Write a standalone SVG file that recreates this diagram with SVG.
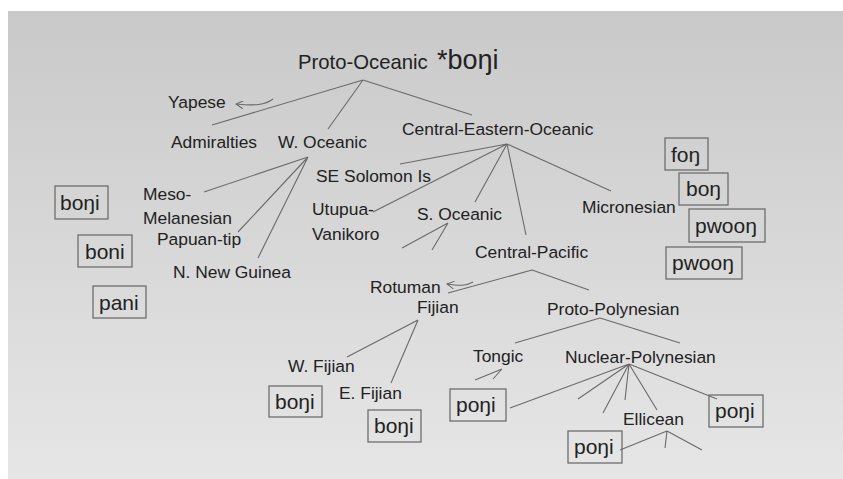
<svg xmlns="http://www.w3.org/2000/svg" width="843" height="479" viewBox="0 0 843 479">
<defs>
<linearGradient id="bg" x1="0" y1="0" x2="0" y2="1">
<stop offset="0" stop-color="#c9c9c9"/>
<stop offset="1" stop-color="#e6e6e6"/>
</linearGradient>
<marker id="open" viewBox="0 0 10 10" refX="9" refY="5" markerWidth="8" markerHeight="8" orient="auto" markerUnits="userSpaceOnUse">
<path d="M0,0 L9,5 L0,10" fill="none" stroke="#666" stroke-width="1.2"/>
</marker>
<style>
.lbl{font-family:"Liberation Sans",Arial,sans-serif;font-size:17.4px;fill:#222}
.bx{font-family:"Liberation Sans",Arial,sans-serif;font-size:21px;fill:#222}
.box{fill:none;stroke:#6e6e6e;stroke-width:1.3}
.ln{fill:none;stroke:#6a6a6a;stroke-width:1.1}
</style>
</defs>
<rect x="0" y="0" width="843" height="479" fill="#ffffff"/>
<rect x="8" y="11" width="835" height="468" fill="url(#bg)"/>

<g id="connectors">
<path class="ln" d="M363,80 L212,125 M363,80 L328,129 M363,80 L472,115"/>
<path class="ln" d="M273,99 C265,105 255,106 236,104" marker-end="url(#open)"/>
<path class="ln" d="M308,157 L204,192 M308,157 L238,232 M308,157 L258,258"/>
<path class="ln" d="M507,144 L400,164 M507,144 L373,212 M507,144 L475,202 M507,144 L526,235 M507,144 L611,191"/>
<path class="ln" d="M448,223 L402,248 M448,223 L432,250"/>
<path class="ln" d="M532,270 L448,293 M532,270 L589,290"/>
<path class="ln" d="M473,282 C466,286 460,286 447,284" marker-end="url(#open)"/>
<path class="ln" d="M418,320 L347,357 M418,320 L391,383"/>
<path class="ln" d="M600,318 L515,343 M600,318 L680,343"/>
<path class="ln" d="M502,369 L475,380 M502,369 L493,379"/>
<path class="ln" d="M629,364 L510,408 M629,364 L578,399 M629,364 L603,413 M629,364 L625,400 M629,364 L657,410 M629,364 L717,399"/>
<path class="ln" d="M667,431 L620,450 M667,431 L665,448 M667,431 L702,450"/>
</g>

<g id="root">
<text x="298" y="69" font-family="Liberation Sans,Arial,sans-serif" font-size="20.3" fill="#222">Proto-Oceanic</text>
<text x="437" y="69" font-family="Liberation Sans,Arial,sans-serif" font-size="27" fill="#222">*boŋi</text>
</g>
<g id="yapese"><text class="lbl" x="168" y="108">Yapese</text></g>
<g id="admiralties"><text class="lbl" x="171" y="148">Admiralties</text></g>
<g id="w-oceanic"><text class="lbl" x="278" y="148">W. Oceanic</text></g>
<g id="ceo"><text class="lbl" x="402" y="135">Central-Eastern-Oceanic</text></g>
<g id="meso"><text class="lbl" x="143" y="200">Meso-</text><text class="lbl" x="143" y="224">Melanesian</text></g>
<g id="papuan"><text class="lbl" x="157" y="245">Papuan-tip</text></g>
<g id="nng"><text class="lbl" x="173" y="278">N. New Guinea</text></g>
<g id="se-solomon"><text class="lbl" x="316" y="182">SE Solomon Is</text></g>
<g id="utupua"><text class="lbl" x="312" y="215">Utupua-</text><text class="lbl" x="312" y="240">Vanikoro</text></g>
<g id="s-oceanic"><text class="lbl" x="417" y="220">S. Oceanic</text></g>
<g id="micronesian"><text class="lbl" x="582" y="213">Micronesian</text></g>
<g id="central-pacific"><text class="lbl" x="475" y="258">Central-Pacific</text></g>
<g id="rotuman"><text class="lbl" x="370" y="293">Rotuman</text></g>
<g id="fijian"><text class="lbl" x="417" y="313">Fijian</text></g>
<g id="proto-polynesian"><text class="lbl" x="547" y="315">Proto-Polynesian</text></g>
<g id="w-fijian"><text class="lbl" x="288" y="372">W. Fijian</text></g>
<g id="e-fijian"><text class="lbl" x="339" y="399">E. Fijian</text></g>
<g id="tongic"><text class="lbl" x="473" y="362">Tongic</text></g>
<g id="nuclear-polynesian"><text class="lbl" x="565" y="363">Nuclear-Polynesian</text></g>
<g id="ellicean"><text class="lbl" x="623" y="425">Ellicean</text></g>

<g id="box-bongi-1"><rect class="box" x="55" y="186" width="53" height="33"/><text class="bx" x="60" y="210">boŋi</text></g>
<g id="box-boni"><rect class="box" x="78" y="235" width="54" height="32"/><text class="bx" x="85" y="259">boni</text></g>
<g id="box-pani"><rect class="box" x="93" y="286" width="53" height="32"/><text class="bx" x="99" y="310">pani</text></g>
<g id="box-fong"><rect class="box" x="665" y="138" width="43" height="32"/><text class="bx" x="671" y="162">foŋ</text></g>
<g id="box-bong"><rect class="box" x="679" y="173" width="49" height="32"/><text class="bx" x="686" y="196">boŋ</text></g>
<g id="box-pwoong-1"><rect class="box" x="689" y="209" width="76" height="33"/><text class="bx" x="695" y="233">pwooŋ</text></g>
<g id="box-pwoong-2"><rect class="box" x="666" y="247" width="76" height="32"/><text class="bx" x="672" y="270">pwooŋ</text></g>
<g id="box-bongi-w"><rect class="box" x="269" y="386" width="53" height="31"/><text class="bx" x="275" y="409">boŋi</text></g>
<g id="box-bongi-e"><rect class="box" x="368" y="410" width="53" height="32"/><text class="bx" x="374" y="433">boŋi</text></g>
<g id="box-pongi-t"><rect class="box" x="450" y="389" width="56" height="32"/><text class="bx" x="456" y="412">poŋi</text></g>
<g id="box-pongi-r"><rect class="box" x="709" y="395" width="54" height="32"/><text class="bx" x="715" y="418">poŋi</text></g>
<g id="box-pongi-e"><rect class="box" x="568" y="431" width="54" height="32"/><text class="bx" x="574" y="454">poŋi</text></g>
</svg>
